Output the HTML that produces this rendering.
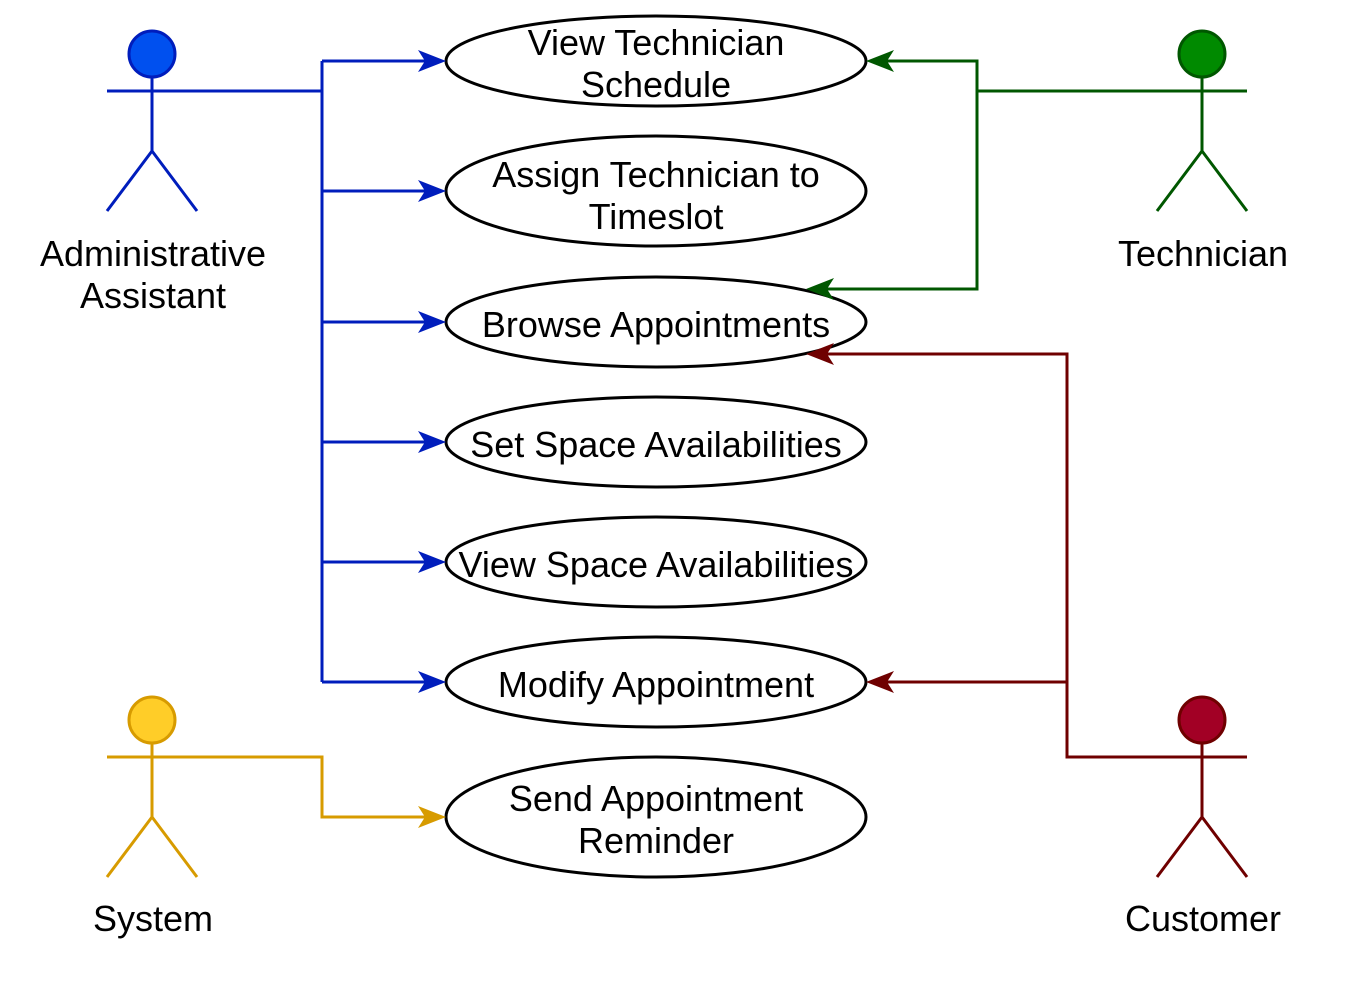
<!DOCTYPE html>
<html><head><meta charset="utf-8"><style>
html,body{margin:0;padding:0;background:#fff}
svg{display:block}
text{font-family:"Liberation Sans",sans-serif;font-size:36px;fill:#000;text-anchor:middle}
</style></head><body>
<svg width="1348" height="986" viewBox="0 0 1348 986" xmlns="http://www.w3.org/2000/svg">
<defs>
<path id="ar" d="M0,0 L-28,-11 L-21,0 L-28,11 Z"/>
</defs>
<g fill="#fff" stroke="#000" stroke-width="3">
<ellipse cx="656" cy="61" rx="210" ry="45"/>
<ellipse cx="656" cy="191" rx="210" ry="55"/>
<ellipse cx="656" cy="322" rx="210" ry="45"/>
<ellipse cx="656" cy="442" rx="210" ry="45"/>
<ellipse cx="656" cy="562" rx="210" ry="45"/>
<ellipse cx="656" cy="682" rx="210" ry="45"/>
<ellipse cx="656" cy="817" rx="210" ry="60"/>
</g>
<text x="656" y="55">View Technician</text>
<text x="656" y="97">Schedule</text>
<text x="656" y="187">Assign Technician to</text>
<text x="656" y="229">Timeslot</text>
<text x="656" y="337">Browse Appointments</text>
<text x="656" y="457">Set Space Availabilities</text>
<text x="656" y="577">View Space Availabilities</text>
<text x="656" y="697">Modify Appointment</text>
<text x="656" y="811">Send Appointment</text>
<text x="656" y="853">Reminder</text>

<g stroke="#001DBC" stroke-width="3" fill="none">
<path d="M152,91 H322 M322,61 V682 M322,61 H428 M322,191 H428 M322,322 H428 M322,442 H428 M322,562 H428 M322,682 H428"/>
</g>
<g fill="#001DBC">
<use href="#ar" x="446" y="61"/><use href="#ar" x="446" y="191"/><use href="#ar" x="446" y="322"/>
<use href="#ar" x="446" y="442"/><use href="#ar" x="446" y="562"/><use href="#ar" x="446" y="682"/>
</g>
<g stroke="#005700" stroke-width="3" fill="none">
<path d="M1202,91 H977 V61 H884 M977,91 V289 H824"/>
</g>
<g fill="#005700">
<use href="#ar" x="866" y="61" transform="rotate(180 866 61)"/>
<use href="#ar" x="806" y="289" transform="rotate(180 806 289)"/>
</g>
<g stroke="#6F0000" stroke-width="3" fill="none">
<path d="M1202,757 H1067 V354 H824 M1067,682 H884"/>
</g>
<g fill="#6F0000">
<use href="#ar" x="866" y="682" transform="rotate(180 866 682)"/>
<use href="#ar" x="806" y="354" transform="rotate(180 806 354)"/>
</g>
<g stroke="#d79b00" stroke-width="3" fill="none">
<path d="M152,757 H322 V817 H428"/>
</g>
<use href="#ar" x="446" y="817" fill="#d79b00"/>

<g stroke="#001DBC" stroke-width="3" fill="none">
<circle cx="152" cy="54" r="23" fill="#0050ef"/>
<path d="M152,77 V151 M107,91 H197 M152,151 L107,211 M152,151 L197,211"/>
</g>
<text x="153" y="266">Administrative</text>
<text x="153" y="308">Assistant</text>

<g stroke="#005700" stroke-width="3" fill="none">
<circle cx="1202" cy="54" r="23" fill="#008a00"/>
<path d="M1202,77 V151 M1157,91 H1247 M1202,151 L1157,211 M1202,151 L1247,211"/>
</g>
<text x="1203" y="266">Technician</text>

<g stroke="#d79b00" stroke-width="3" fill="none">
<circle cx="152" cy="720" r="23" fill="#ffcd28"/>
<path d="M152,743 V817 M107,757 H197 M152,817 L107,877 M152,817 L197,877"/>
</g>
<text x="153" y="931">System</text>

<g stroke="#6F0000" stroke-width="3" fill="none">
<circle cx="1202" cy="720" r="23" fill="#a20025"/>
<path d="M1202,743 V817 M1157,757 H1247 M1202,817 L1157,877 M1202,817 L1247,877"/>
</g>
<text x="1203" y="931">Customer</text>
</svg>
</body></html>
